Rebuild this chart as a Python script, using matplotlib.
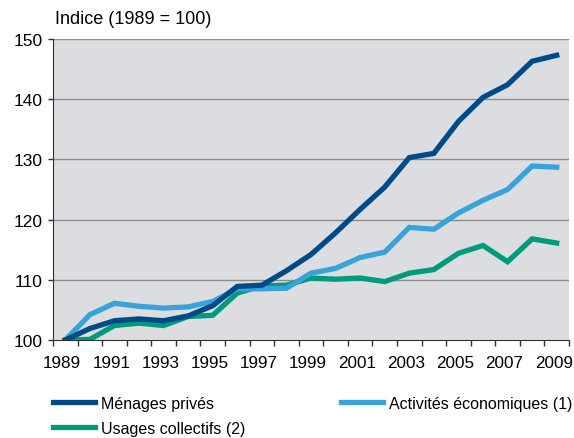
import matplotlib.pyplot as plt
import matplotlib.transforms as mtransforms
import numpy as np

plt.rcParams['font.family'] = ['Liberation Sans', 'DejaVu Sans']

# data (index, 1989 = 100)
years = list(range(1989, 2010))
menages = [100, 101.9, 103.2, 103.5, 103.2, 104.0, 105.7, 108.9, 109.1, 111.5,
           114.2, 117.8, 121.7, 125.4, 130.3, 131.0, 136.3, 140.3, 142.4, 146.3, 147.3]
activites = [100, 104.2, 106.1, 105.6, 105.3, 105.5, 106.4, 108.5, 108.5, 108.6,
             111.1, 111.9, 113.7, 114.6, 118.7, 118.4, 121.1, 123.2, 125.0, 128.9, 128.7]
usages = [100, 100.1, 102.4, 102.8, 102.4, 103.9, 104.1, 107.8, 109.0, 109.1,
          110.3, 110.1, 110.3, 109.7, 111.1, 111.7, 114.4, 115.7, 113.0, 116.8, 116.1]

c_menages = '#004a88'
c_activites = '#38a2da'
c_usages = '#009a7c'

fig = plt.figure(figsize=(5.74, 4.39), dpi=100)
ax = fig.add_axes([53 / 574, 1 - 341 / 439, 516 / 574, 301 / 439])
ax.set_facecolor('#dcdde0')

x = np.arange(len(years))
l1, = ax.plot(x, menages, color=c_menages, lw=3.8, solid_joinstyle='miter', label='Ménages privés')
l3, = ax.plot(x, usages, color=c_usages, lw=3.8, solid_joinstyle='miter', label='Usages collectifs (2)')
l2, = ax.plot(x, activites, color=c_activites, lw=3.8, solid_joinstyle='miter', label='Activités économiques (1)')
# dark blue on top
l1.set_zorder(4)

ax.set_xlim(-0.5, len(years) - 0.5)
ax.set_ylim(100, 150)

# y axis
ax.set_yticks(np.arange(100, 151, 10))
for v in range(110, 151, 10):
    ax.axhline(v, color='#8c8c8c', lw=1, zorder=1)
ax.tick_params(axis='y', length=3.6, width=1, color='#333333', labelsize=12.5, pad=4)

# x axis: ticks at category boundaries, labels every 2 years at centres
ax.set_xticks(np.arange(-0.5, len(years), 1))
ax.set_xticklabels([])
ax.set_xticks(x[::2], minor=True)
ax.set_xticklabels([str(y) for y in years[::2]], minor=True)
ax.tick_params(axis='x', which='major', length=4.3, width=1, color='#333333')
ax.tick_params(axis='x', which='minor', length=0, labelsize=12.3, pad=10.5)
shift = mtransforms.ScaledTranslation(-3 / 100, 0, fig.dpi_scale_trans)
for lab in ax.get_xticklabels(minor=True):
    lab.set_transform(lab.get_transform() + shift)

for s in ['top', 'right']:
    ax.spines[s].set_visible(False)
ax.spines['left'].set_color('#333333')
ax.spines['bottom'].set_color('#333333')

fig.text(55 / 574, 1 - 20 / 439, 'Indice (1989 = 100)', fontsize=13, va='center', ha='left')

fig.legend(handles=[l1, l3, l2], loc='upper left', bbox_to_anchor=(53 / 574, 1 - 397 / 439),
           ncol=2, frameon=False, fontsize=11.5, handlelength=2.6, handletextpad=0.4,
           labelspacing=0.62, columnspacing=6.0, borderaxespad=0, borderpad=0)

fig.savefig('out.png', dpi=100)
